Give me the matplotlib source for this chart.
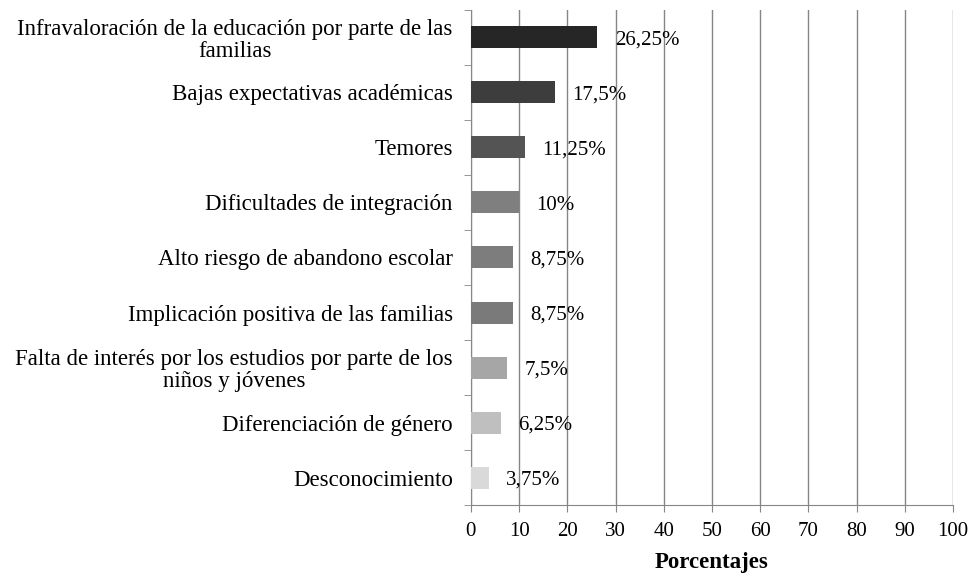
import matplotlib
matplotlib.use("Agg")
import matplotlib.pyplot as plt
from matplotlib.ticker import FixedLocator

plt.rcParams['font.family'] = ['Liberation Serif', 'DejaVu Serif']

categorias = [
    'Infravaloración de la educación por parte de las\nfamilias',
    'Bajas expectativas académicas',
    'Temores',
    'Dificultades de integración',
    'Alto riesgo de abandono escolar',
    'Implicación positiva de las familias',
    'Falta de interés por los estudios por parte de los\nniños y jóvenes',
    'Diferenciación de género',
    'Desconocimiento',
]
valores = [26.25, 17.5, 11.25, 10, 8.75, 8.75, 7.5, 6.25, 3.75]
etiquetas = ['26,25%', '17,5%', '11,25%', '10%', '8,75%', '8,75%', '7,5%', '6,25%', '3,75%']
colores = ['#262626', '#3d3d3d', '#545454', '#7f7f7f', '#7d7d7d',
           '#7a7a7a', '#a6a6a6', '#bfbfbf', '#d9d9d9']

gris = '#868686'

fig = plt.figure(figsize=(9.79, 5.76), dpi=100)
ax = fig.add_axes([0.481, 0.123, 0.4925, 0.86])

pos = list(range(len(categorias)))[::-1]
ax.barh(pos, valores, height=0.4, color=colores, zorder=3)

for y, v, t in zip(pos, valores, etiquetas):
    ax.text(v + 3.6, y - 0.05, t, va='center', ha='left', fontsize=15, zorder=4)

ax.set_xlim(0, 100)
ax.set_ylim(-0.5, len(categorias) - 0.5)
ax.set_xticks(range(0, 101, 10))
ax.set_yticks(pos)
ax.set_yticklabels(categorias, fontsize=16.5, multialignment='center', linespacing=1.05)
ax.yaxis.set_minor_locator(FixedLocator([i + 0.5 for i in range(-1, len(categorias))]))

ax.grid(axis='x', color=gris, linewidth=1, zorder=0)
for s in ['top', 'right']:
    ax.spines[s].set_visible(False)
for s in ['left', 'bottom']:
    ax.spines[s].set_color(gris)

ax.tick_params(axis='y', which='major', length=0, pad=13)
ax.tick_params(axis='y', which='minor', length=5, color=gris)
ax.tick_params(axis='x', length=5, color=gris, labelsize=15, pad=7)

ax.set_xlabel('Porcentajes', fontsize=16.5, fontweight='bold', labelpad=8)

fig.savefig('out.png', dpi=100)
